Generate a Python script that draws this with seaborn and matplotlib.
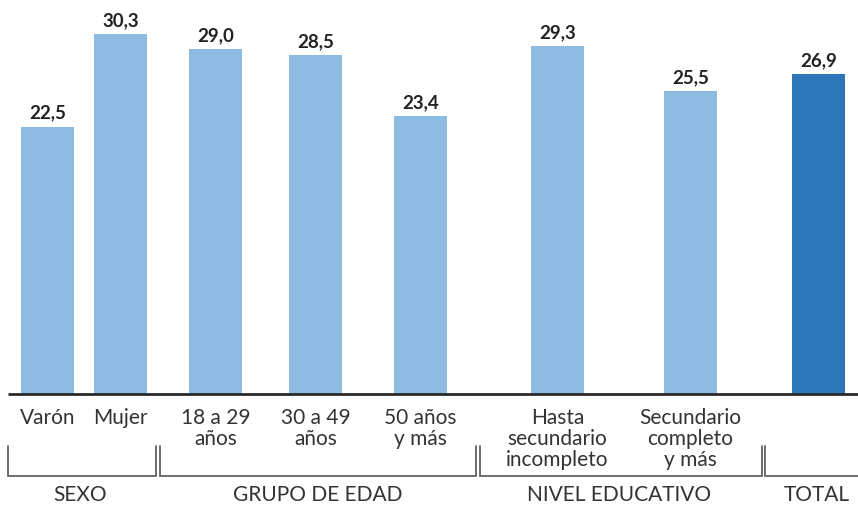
import matplotlib
matplotlib.use("Agg")
import matplotlib.pyplot as plt
import seaborn as sns
import pandas as pd

# ---- data ----
categorias = ["Varón", "Mujer", "18 a 29\naños", "30 a 49\naños", "50 años\ny más",
              "Hasta\nsecundario\nincompleto", "Secundario\ncompleto\ny más", ""]
valores = [22.5, 30.3, 29.0, 28.5, 23.4, 29.3, 25.5, 26.9]
tipo = ["parcial"] * 7 + ["total"]
grupos = ["SEXO", "GRUPO DE EDAD", "NIVEL EDUCATIVO", "TOTAL"]

# ---- layout (pixel-based positions) ----
W, H = 858, 506
x_pos = [47.5, 120.5, 215.5, 315.5, 420.5, 557.5, 690.5, 818.5]
bar_px = 53
base_px = 395
px_per_unit = 11.88
brackets = [(8, 156), (160, 476), (480, 762), (765, 880)]
group_x = [80, 318, 619, 817]

def yv(py):
    return (base_px - py) / px_per_unit

sns.set_theme(style="white")
plt.rcParams["font.family"] = ["Lato", "DejaVu Sans"]

fig = plt.figure(figsize=(W / 100, H / 100), dpi=100)
ax = fig.add_axes([0, 0, 1, 1])

df = pd.DataFrame({"x": x_pos, "valor": valores, "tipo": tipo})
min_gap = min(b - a for a, b in zip(x_pos[:-1], x_pos[1:]))
sns.barplot(data=df, x="x", y="valor", hue="tipo", native_scale=True, dodge=False,
            palette={"parcial": "#8DBBE2", "total": "#2B77B7"},
            width=bar_px / min_gap, legend=False, ax=ax, saturation=1, linewidth=0)

ax.set_xlim(0, W)
ax.set_ylim(yv(H), yv(0))
ax.axis("off")

# baseline
ax.plot([8, W], [0, 0], color="#2a2a2a", lw=2, solid_capstyle="butt")

lab_color = "#333333"
# value labels
for x, v in zip(x_pos, valores):
    ax.text(x, v + 9 / px_per_unit, f"{v:.1f}".replace(".", ","), ha="center", va="baseline",
            fontsize=13.5, fontweight="bold", color="#222222")

# category labels
for x, c in zip(x_pos, categorias):
    if c:
        ax.text(x, yv(408), c, ha="center", va="top", fontsize=15, color=lab_color,
                linespacing=1.06, multialignment="center")

# brackets
for x0, x1 in brackets:
    ax.plot([x0, x0, x1, x1], [yv(447), yv(477), yv(477), yv(447)], color="#555555",
            lw=1.2, clip_on=False, solid_joinstyle="miter")

# group labels
for x, g in zip(group_x, grupos):
    ax.text(x, yv(495), g, ha="center", va="center", fontsize=15, color=lab_color)

fig.savefig("out.png", dpi=100)
